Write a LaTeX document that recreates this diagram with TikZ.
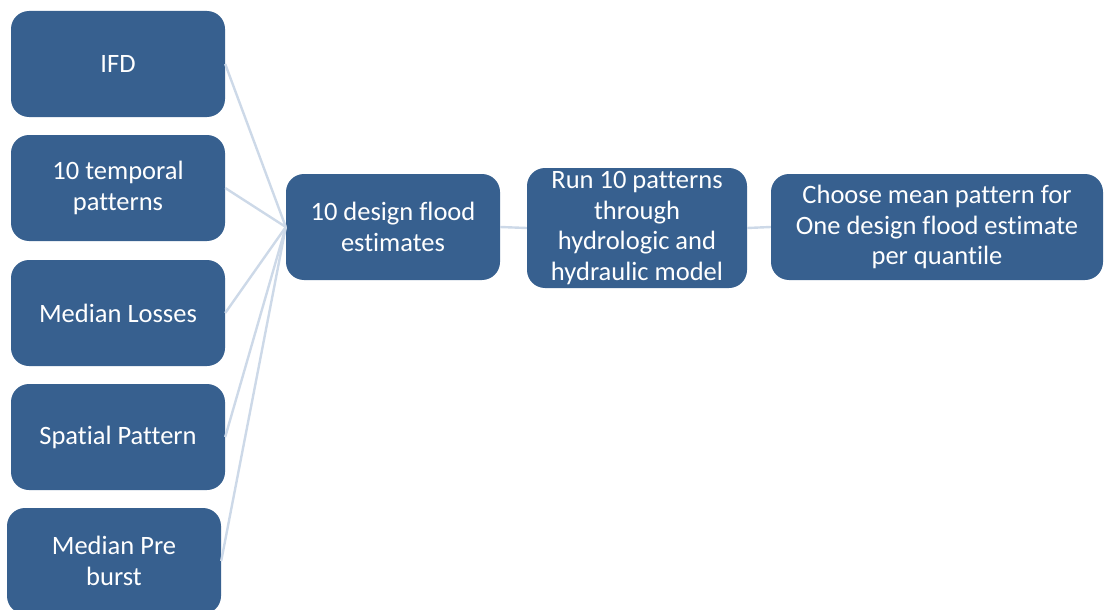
\documentclass[tikz,border=0pt]{standalone}
\usepackage{fontspec}
\setmainfont{Carlito}[Ligatures=NoCommon]
\usepackage{tikz}
\definecolor{blau}{HTML}{37608F}
\definecolor{hblau}{HTML}{CDD9E8}
\tikzset{
  kasten/.style={fill=blau,draw=none,rounded corners=18pt,text=white,align=center,
    minimum width=214pt,minimum height=106pt,inner sep=0pt,
    font=\fontsize{26.5}{30.5}\selectfont},
  linie/.style={hblau,line width=2.4pt},
}

\begin{document}
\begin{tikzpicture}[x=1pt,y=-1pt]
  \useasboundingbox (0,0) rectangle (1104,610);
  % linke Spalte
  \node[kasten] (ifd) at (118,64) {IFD};
  \node[kasten] (temporal) at (118,188) {10 temporal\\patterns};
  \node[kasten] (losses) at (118,313) {Median Losses};
  \node[kasten] (spatial) at (118,437) {Spatial Pattern};
  \node[kasten] (preburst) at (114,561) {Median Pre\\burst};
  % Kette
  \node[kasten] (design) at (393,227) {10 design flood\\estimates};
  \node[kasten,minimum width=220pt,minimum height=120pt] (run) at (637,228)
    {Run 10 patterns\\through\\hydrologic and\\hydraulic model};
  \node[kasten,minimum width=332pt] (choose) at (937,227)
    {Choose mean pattern for\\One design flood estimate\\per quantile};
  \foreach \n in {ifd,temporal,losses,spatial,preburst}
    \draw[linie] (\n.east)--(design.west);
  \draw[linie] (design.east)--(run.west);
  \draw[linie] (run.east)--(choose.west);
\end{tikzpicture}
\end{document}
